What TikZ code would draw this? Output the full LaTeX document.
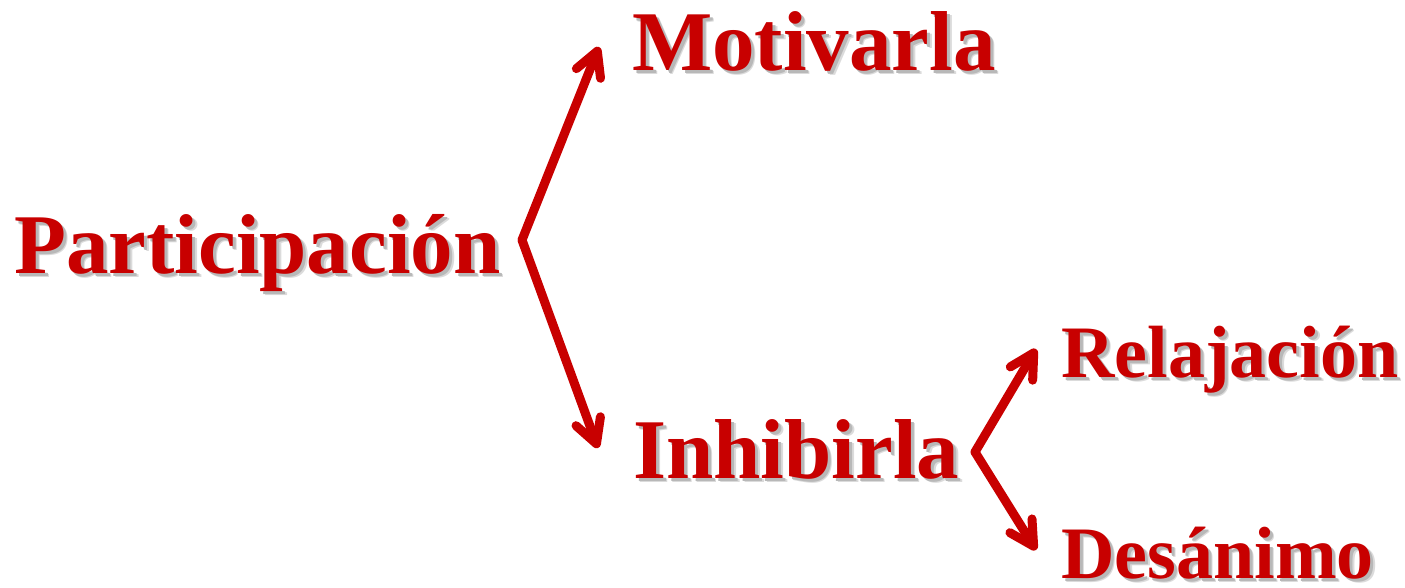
\documentclass[tikz,border=0pt]{standalone}
\usepackage{fontspec}
\setmainfont{Liberation Serif}
\usetikzlibrary{arrows.meta}
\definecolor{dred}{HTML}{C80000}
\newcommand\shd[1]{\makebox[0pt][l]{\hspace{4.5pt}\raisebox{-4.5pt}{\color{black!14}#1}}\makebox[0pt][l]{\hspace{3pt}\raisebox{-3pt}{\color{black!28}#1}}#1}
\tikzset{
  big/.style={anchor=base west, inner sep=0pt, text=dred, font=\bfseries\fontsize{85}{90}\selectfont},
  small/.style={anchor=base west, inner sep=0pt, text=dred, font=\bfseries\fontsize{74}{80}\selectfont},
  arr/.style={draw=dred, line width=9pt, line cap=round,
    -{Straight Barb[length=24pt,width=26pt,line cap=round,line join=round]}}
}
\begin{document}
\begin{tikzpicture}[x=1pt,y=-1pt]
\useasboundingbox (0,0) rectangle (1405,587);
\node[big] (part) at (14,273) {\shd{Participación}};
\node[big] (moti) at (632,70) {\shd{Motivarla}};
\node[big] (inhi) at (633,478) {\shd{Inhibirla}};
\node[small] (rela) at (1061,377) {\shd{Relajación}};
\node[small] (desa) at (1061,578) {\shd{Desánimo}};
\coordinate (v1) at (522,240);
\coordinate (t1) at (599,47);
\coordinate (t2) at (598,448);
\coordinate (v2) at (975,452);
\coordinate (t3) at (1036,349);
\coordinate (t4) at (1036,550);
\draw[arr] (v1) -- (t1);
\draw[arr] (v1) -- (t2);
\draw[arr] (v2) -- (t3);
\draw[arr] (v2) -- (t4);
\end{tikzpicture}
\end{document}
